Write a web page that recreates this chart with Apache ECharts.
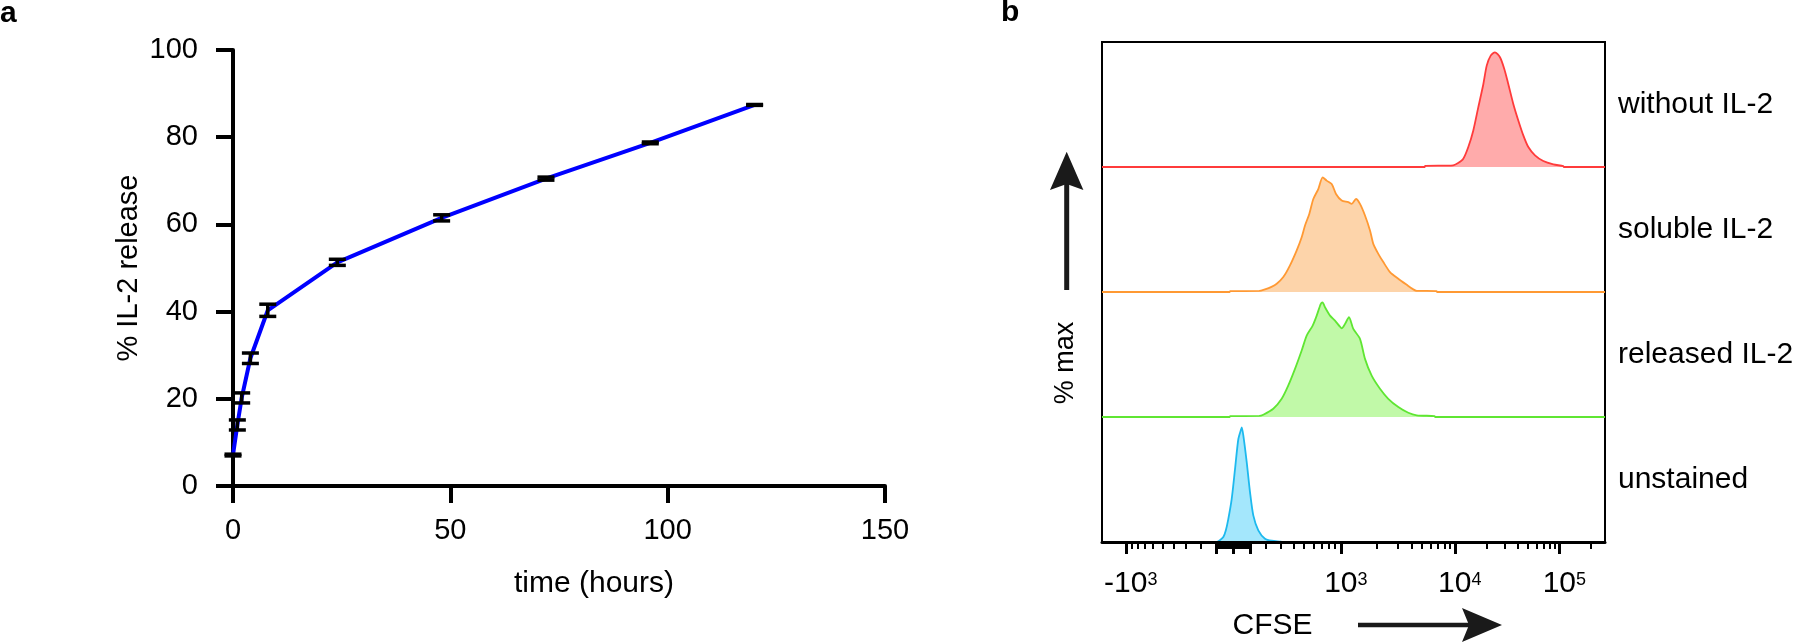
<!DOCTYPE html>
<html>
<head>
<meta charset="utf-8">
<script src="https://cdn.jsdelivr.net/npm/echarts@6/dist/echarts.min.js"></script>
<style>
html,body{margin:0;padding:0;background:#ffffff;}
#chart{width:1800px;height:642px;}
</style>
</head>
<body>
<div id="chart"></div>
<script>
// ---------------- Panel a data ----------------
const timeHours   = [0, 1, 2, 4, 8, 24, 48, 72, 96, 120];
const releasePct  = [7.1, 14.0, 20.2, 29.3, 40.3, 51.3, 61.5, 70.5, 78.7, 87.4];
const releaseErr  = [0.2, 1.15, 1.15, 1.2, 1.4, 0.7, 0.7, 0.35, 0.2, 0.1];
const timeTicks   = [0, 50, 100, 150];
const pctTicks    = [0, 20, 40, 60, 80, 100];

// ---------------- Panel b data ----------------
// histograms: [display channel (0-1024, biexponential CFSE scale), % of max]
const laneNames = ['without IL-2', 'soluble IL-2', 'released IL-2', 'unstained'];
const histWithoutIL2 = [[0,0],[657,0],[658,1.0],[700,1.2],[715,1.5],[725,3.5],[735.5,7.2],[745.7,17.4],[755.9,31.9],[766.1,52.2],[776.3,72.2],[783.2,88.4],[791.3,97.1],[800,100],[810.2,95.7],[819,85.5],[827.1,72.4],[837.3,55.0],[847.5,40.6],[857.7,27.6],[867.9,17.4],[881.5,10.2],[898.4,5.2],[918.8,2.3],[939,0.8],[940,0],[1024,0]];
const histSolubleIL2 = [[0,0],[260,0],[261,0.8],[320,0.9],[331.8,2.3],[345,4.5],[355.7,7.2],[369.1,13.0],[382.7,23.2],[396.4,36.3],[406.5,47.8],[413.3,58.0],[422,68.1],[430.2,81.1],[440.3,89.8],[449.3,100],[457.4,97.1],[467.6,94.2],[476.4,85.5],[488,79.7],[501.4,78.3],[508.3,76.8],[517.1,81.1],[525.2,76.8],[535.4,66.7],[545.6,53.7],[552.3,42.0],[562.5,33.3],[572.7,26.1],[586.3,17.4],[603.2,11.6],[620.3,6.3],[633.7,2.3],[640.7,1.0],[681,0.8],[682,0],[1024,0]];
const histReleasedIL2 = [[0,0],[260,0],[261,0.8],[320,0.9],[328.4,2.0],[348.7,7.2],[365.8,15.9],[379.3,27.6],[392.9,42.0],[406.5,58.0],[416.7,71.0],[428.9,79.7],[437.1,88.4],[445.2,98.5],[449,100],[454,95.7],[464.2,88.4],[474.3,84.1],[484,79.0],[488,77.3],[494.7,81.1],[502.8,87.0],[511.6,76.8],[525.2,68.1],[535.4,50.7],[549,36.0],[565.9,24.6],[582.8,15.9],[603.2,8.7],[623.6,3.7],[640.7,1.5],[677,0.8],[678,0],[1024,0]];
const histUnstained = [[0,0],[233,0],[233.5,0.4],[240,1.5],[247,4.3],[252,10],[257.1,20],[264,37.4],[270.8,63.5],[277.5,89.6],[283,98],[284.5,100],[287.7,93],[294.6,69.6],[301.3,43.5],[308,23.2],[318.2,10.2],[331.8,2.9],[345.5,1.1],[365,0.3],[366,0],[1024,0]];

// CFSE axis ticks (intensity values)
const cfseMajorTicks = [-1000, -100, 0, 100, 1000, 10000, 100000];
const cfseMinorTicks = [-900,-800,-700,-600,-500,-400,-300,-200,-90,-80,-70,-60,-50,-40,-30,-20,-10,
                        10,20,30,40,50,60,70,80,90,200,300,400,500,600,700,800,900,
                        2000,3000,4000,5000,6000,7000,8000,9000,
                        20000,30000,40000,50000,60000,70000,80000,90000,200000];
const cfseLabelValues = [-1000, 1000, 10000, 100000];
const cfseLabelTexts  = ['{pad|}{b|-10}{s|3}', '{pad|}{b|10}{s|3}', '{pad|}{b|10}{s|4}', '{pad|}{b|10}{s|5}'];

// biexponential (logicle) transform: intensity -> display channel
const LOGICLE = { p: 2.85, k: 0.01469, zeroChannel: 267.3, channelsPerDecade: 209.7 };
function cfseChannel(v) {
  const p = LOGICLE.p, target = Math.abs(v) * LOGICLE.k;
  let lo = 0, hi = 8;
  for (let i = 0; i < 60; i++) {
    const mid = (lo + hi) / 2;
    const g = Math.pow(10, mid) - p * p * Math.pow(10, -mid / p) + p * p - 1;
    if (g < target) lo = mid; else hi = mid;
  }
  return LOGICLE.zeroChannel + Math.sign(v) * LOGICLE.channelsPerDecade * (lo + hi) / 2;
}
const CH_MAX = 1024;
const inRange = c => c >= 0 && c <= CH_MAX;
const majorCh = cfseMajorTicks.map(cfseChannel).filter(inRange);
const minorCh = cfseMinorTicks.map(cfseChannel).filter(inRange);
const labelCh = cfseLabelValues.map(cfseChannel);

// ---------------- styling ----------------
const FONT = 'Liberation Sans, Arial, Helvetica, sans-serif';
const INK = '#000000';
const laneColors = [
  { line: '#FF3B3B', fill: '#FFABAB' },
  { line: '#FF9933', fill: '#FDD4AA' },
  { line: '#5FE632', fill: '#C1F9A8' },
  { line: '#1DB9EE', fill: '#A4E7FC' }
];
const laneData = [histWithoutIL2, histSolubleIL2, histReleasedIL2, histUnstained];
const laneTop = 42, laneH = 125, boxLeft = 1102, boxW = 503;
const laneLabelShift = [12, 9, 6, 6.5];

const grids = [
  { left: 233, top: 50, width: 652, height: 436, outerBoundsMode: 'none' }
];
for (let i = 0; i < 4; i++) {
  grids.push({ left: boxLeft, top: laneTop + i * laneH, width: boxW, height: laneH, outerBoundsMode: 'none' });
}
// frame grid (box around panel b)
grids.push({ left: boxLeft, top: laneTop, width: boxW, height: laneH * 4, show: true,
             borderColor: INK, borderWidth: 2, backgroundColor: 'transparent', outerBoundsMode: 'none' });

const xAxes = [{
  gridIndex: 0, type: 'value', min: 0, max: 150, interval: 50,
  axisLine: { show: true, onZero: false, lineStyle: { color: INK, width: 4 } },
  axisTick: { show: true, length: 17, lineStyle: { color: INK, width: 4 } },
  axisLabel: { color: INK, fontSize: 29, fontFamily: FONT, margin: 30, showMinLabel: true, showMaxLabel: true,
               customValues: timeTicks },
  splitLine: { show: false },
  name: 'time (hours)', nameLocation: 'middle', nameGap: 83,
  nameTextStyle: { color: INK, fontSize: 30, fontFamily: FONT, padding: [0, 0, 0, 70] }
}];
const yAxes = [{
  gridIndex: 0, type: 'value', min: 0, max: 100, interval: 20,
  axisLine: { show: true, onZero: false, lineStyle: { color: INK, width: 4 } },
  axisTick: { show: true, length: 17, lineStyle: { color: INK, width: 4 } },
  axisLabel: { color: INK, fontSize: 29, fontFamily: FONT, margin: 35, showMinLabel: true, showMaxLabel: true,
               customValues: pctTicks },
  splitLine: { show: false },
  name: '% IL-2 release', nameLocation: 'middle', nameGap: 90,
  nameTextStyle: { color: INK, fontSize: 29, fontFamily: FONT }
}];

for (let i = 0; i < 4; i++) {
  const last = i === 3;
  xAxes.push({
    gridIndex: i + 1, type: 'value', min: 0, max: CH_MAX, show: last, z: 5,
    axisLine: { show: last, onZero: false, lineStyle: { color: INK, width: 3 } },
    axisTick: { show: last, length: 12, customValues: majorCh, lineStyle: { color: INK, width: 3 } },
    axisLabel: {
      show: last, margin: 27, customValues: labelCh, fontSize: 30, color: INK, fontFamily: FONT,
      formatter: function (val) {
        let best = 0;
        for (let j = 1; j < labelCh.length; j++) if (Math.abs(labelCh[j] - val) < Math.abs(labelCh[best] - val)) best = j;
        return cfseLabelTexts[best];
      },
      rich: {
        pad: { width: 10, fontSize: 30, lineHeight: 30 },
        b: { fontSize: 30, lineHeight: 30, color: INK, fontFamily: FONT },
        s: { fontSize: 18, lineHeight: 18, color: INK, fontFamily: FONT, verticalAlign: 'top', padding: [2, 0, 0, 0] }
      }
    },
    splitLine: { show: false },
    name: last ? 'CFSE' : '', nameLocation: 'middle', nameGap: 69,
    nameTextStyle: { color: INK, fontSize: 30, fontFamily: FONT, padding: [0, 162, 0, 0] }
  });
  yAxes.push({
    gridIndex: i + 1, type: 'value', min: 0, max: 109, position: 'right',
    axisLine: { show: false }, axisTick: { show: false }, axisLabel: { show: false }, splitLine: { show: false },
    name: laneNames[i], nameLocation: 'middle', nameRotate: 0, nameGap: 13,
    nameTextStyle: { color: INK, fontSize: 30, fontFamily: FONT, align: 'left', verticalAlign: 'middle',
                     padding: [laneLabelShift[i] * 2, 0, 0, 0] }
  });
}
// frame axes: minor ticks of CFSE scale
xAxes.push({
  gridIndex: 5, type: 'value', min: 0, max: CH_MAX, position: 'bottom', z: 5,
  axisLine: { show: false },
  axisTick: { show: true, length: 7, customValues: minorCh, lineStyle: { color: INK, width: 2 } },
  axisLabel: { show: false }, splitLine: { show: false }
});
yAxes.push({ gridIndex: 5, type: 'value', min: 0, max: 1, show: false, splitLine: { show: false } });

const series = [
  {
    type: 'line', xAxisIndex: 0, yAxisIndex: 0, name: 'IL-2 release',
    data: timeHours.map((t, i) => [t, releasePct[i]]),
    symbol: 'none', lineStyle: { color: '#0000FF', width: 4 }, z: 3, silent: true
  },
  {
    type: 'custom', xAxisIndex: 0, yAxisIndex: 0, name: 'SEM',
    data: timeHours.map((t, i) => [t, releasePct[i], releaseErr[i]]),
    encode: { x: 0, y: 1 }, z: 4, silent: true,
    renderItem: function (params, api) {
      const x = api.value(0), m = api.value(1), e = api.value(2);
      const top = api.coord([x, m + e]);
      const bot = api.coord([x, m - e]);
      const hw = 8.5;
      const st = { stroke: INK, lineWidth: 3.5 };
      return {
        type: 'group', children: [
          { type: 'line', shape: { x1: top[0], y1: top[1], x2: bot[0], y2: bot[1] }, style: st },
          { type: 'line', shape: { x1: top[0] - hw, y1: top[1], x2: top[0] + hw, y2: top[1] }, style: st },
          { type: 'line', shape: { x1: bot[0] - hw, y1: bot[1], x2: bot[0] + hw, y2: bot[1] }, style: st }
        ]
      };
    }
  }
];
for (let i = 0; i < 4; i++) {
  series.push({
    type: 'line', name: laneNames[i], xAxisIndex: i + 1, yAxisIndex: i + 1,
    data: laneData[i], symbol: 'none', smooth: 0.25, silent: true,
    lineStyle: { color: laneColors[i].line, width: 1.8 },
    areaStyle: { color: laneColors[i].fill, opacity: 1 }
  });
}

const ARROW = '#1a1a1a';
const option = {
  backgroundColor: '#ffffff',
  animation: false,
  textStyle: { fontFamily: FONT },
  grid: grids,
  xAxis: xAxes,
  yAxis: yAxes,
  series: series,
  graphic: [
    { type: 'text', x: 0, y: 13.5, style: { text: 'a', fontSize: 30, fontWeight: 'bold', fontFamily: FONT, fill: INK, align: 'left', verticalAlign: 'middle' } },
    { type: 'text', x: 1001, y: 12.5, style: { text: 'b', fontSize: 30, fontWeight: 'bold', fontFamily: FONT, fill: INK, align: 'left', verticalAlign: 'middle' } },
    { type: 'text', x: 1065.5, y: 363, rotation: Math.PI / 2,
      style: { text: '% max', fontSize: 27, fontFamily: FONT, fill: INK, align: 'center', verticalAlign: 'middle' } },
    { type: 'line', shape: { x1: 1066.7, y1: 290, x2: 1066.7, y2: 180 }, style: { stroke: ARROW, lineWidth: 5 } },
    { type: 'polygon', shape: { points: [[1066.7, 151.7], [1050, 190], [1066.7, 184], [1083.4, 190]] }, style: { fill: ARROW } },
    { type: 'line', shape: { x1: 1358, y1: 625, x2: 1470, y2: 625 }, style: { stroke: ARROW, lineWidth: 4.5 } },
    { type: 'polygon', shape: { points: [[1502, 625], [1462, 608], [1469, 625], [1462, 642]] }, style: { fill: ARROW } }
  ]
};

const chart = echarts.init(document.getElementById('chart'), null, { renderer: 'canvas', width: 1800, height: 642 });
chart.setOption(option);
</script>
</body>
</html>
